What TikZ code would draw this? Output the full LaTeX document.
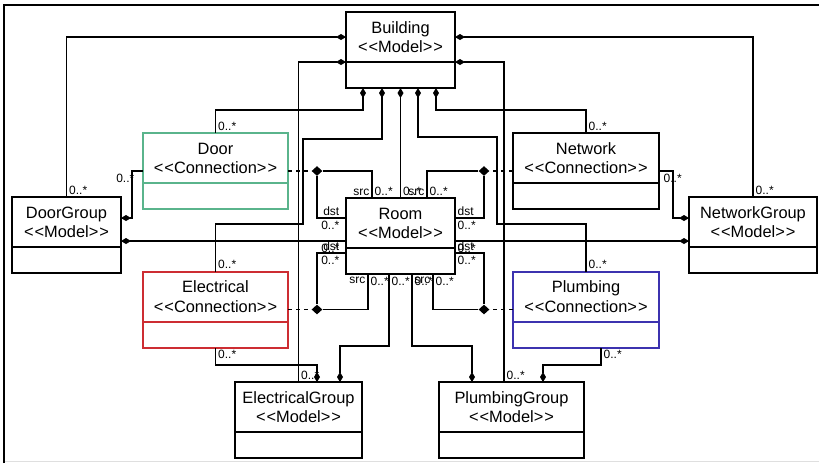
\documentclass[tikz,border=0pt]{standalone}
\usepackage{fontspec}
\setmainfont{Liberation Sans}
\usetikzlibrary{arrows.meta,shapes.geometric}

\definecolor{doorgreen}{RGB}{90,180,140}
\definecolor{elecred}{RGB}{205,45,50}
\definecolor{plumbblue}{RGB}{60,50,175}

% stereotype with the brackets kept apart
\newcommand{\stereo}[1]{<\kern.5pt<#1>\kern.5pt>}

% UML class box: name, centre, width (px), colour, title, stereotype
\newcommand{\umlclass}[6]{%
    \node[classbox, draw=#4, minimum width=#3*0.5pt] (#1) at (#2) {};
    \draw[#4, line width=1pt] ([yshift=-25pt]#1.north west) -- ([yshift=-25pt]#1.north east);
    \node[classname] at ([yshift=-10.5pt]#1.north) {#5};
    \node[classname] at ([yshift=-20.25pt]#1.north) {#6};
}

\begin{document}
\begin{tikzpicture}[
    x=0.5pt, y=-0.5pt,
    classbox/.style={draw, fill=white, line width=1pt, minimum height=38pt, inner sep=0pt, outer sep=0pt},
    classname/.style={anchor=base, inner sep=0pt, font=\fontsize{8.2}{9.5}\selectfont},
    conn/.style={line width=0.7pt},
    comp/.style={conn, {Diamond[length=5pt,width=3pt]}-},
    assoc/.style={conn, dash pattern=on 2pt off 2pt},
    junction/.style={diamond, fill=black, inner sep=0pt, minimum width=5.5pt, minimum height=5pt},
    lbl/.style={inner sep=1pt, font=\fontsize{6}{7}\selectfont},
]
\useasboundingbox (0,0) rectangle (819,463);

% === Frame ===
\draw[gray!25] (4,461) -- (819,461);
\draw[line width=1pt] (4,463) -- (4,5) -- (819,5);

% === Model classes ===
\umlclass{Building}{400.5,50}{109}{black}{Building}{\stereo{Model}}
\umlclass{Room}{400.5,236}{109}{black}{Room}{\stereo{Model}}
\umlclass{DoorGroup}{66.5,235}{109}{black}{DoorGroup}{\stereo{Model}}
\umlclass{NetworkGroup}{753,235}{128}{black}{NetworkGroup}{\stereo{Model}}
\umlclass{ElectricalGroup}{298.5,420}{127}{black}{ElectricalGroup}{\stereo{Model}}
\umlclass{PlumbingGroup}{511.5,420}{145}{black}{PlumbingGroup}{\stereo{Model}}

% === Connection classes ===
\umlclass{Door}{215.5,171}{145}{doorgreen}{Door}{\stereo{Connection}}
\umlclass{Network}{586,171}{146}{black}{Network}{\stereo{Connection}}
\umlclass{Electrical}{215.5,309.5}{145}{elecred}{Electrical}{\stereo{Connection}}
\umlclass{Plumbing}{586,309.5}{146}{plumbblue}{Plumbing}{\stereo{Connection}}

% === Building compositions ===
\draw[comp] (Building.west |- 0,37) -| (DoorGroup.north) node[lbl, anchor=south west] {0..*};
\draw[comp] (Building.west |- 0,62) -| (ElectricalGroup.north) node[lbl, anchor=south west] {0..*};
\draw[comp] (Building.east |- 0,37) -| (NetworkGroup.north) node[lbl, anchor=south west] {0..*};
\draw[comp] (Building.east |- 0,62) -| (504,0 |- PlumbingGroup.north) node[lbl, anchor=south west] {0..*};
\draw[comp] (363,0 |- Building.south) -- (363,110) -| (Door.north) node[lbl, anchor=south west] {0..*};
\draw[comp] (382,0 |- Building.south) -- (382,139) -| (303,224) -| (Electrical.north) node[lbl, anchor=south west] {0..*};
\draw[comp] (Building.south) -- (Room.north) node[lbl, anchor=south west] {0..*};
\draw[comp] (418,0 |- Building.south) -- (418,137) -| (497,224) -| (Plumbing.north) node[lbl, anchor=south west] {0..*};
\draw[comp] (436,0 |- Building.south) -- (436,110) -| (Network.north) node[lbl, anchor=south west] {0..*};

% === Group compositions ===
\draw[comp] (DoorGroup.east |- 0,218) -| (132,0 |- Door.west)
    node[lbl, anchor=north east, xshift=2.5pt] {0..*} -- (Door.west);
\draw[comp] (NetworkGroup.west |- 0,218) -| (673,0 |- Network.east)
    node[lbl, anchor=north west, xshift=-6pt] {0..*} -- (Network.east);
\draw[comp] (DoorGroup.east |- 0,241) -- (Room.west |- 0,241) node[lbl, anchor=north east, xshift=-2pt] {0..*};
\draw[comp] (NetworkGroup.west |- 0,241) -- (Room.east |- 0,241) node[lbl, anchor=north west] {0..*};
\draw[comp] (340,0 |- ElectricalGroup.north) -- (340,346) -| (389,0 |- Room.south) node[lbl, anchor=north west] {0..*};
\draw[comp] (472,0 |- PlumbingGroup.north) -- (472,346) -| (412,0 |- Room.south) node[lbl, anchor=north west] {0..*};
\draw[comp] (317,0 |- ElectricalGroup.north) -- (317,365) -| (Electrical.south) node[lbl, anchor=north west] {0..*};
\draw[comp] (543,0 |- PlumbingGroup.north) -- (543,365) -| (601,0 |- Plumbing.south) node[lbl, anchor=north west] {0..*};

% === Room to Room associations (src / dst) ===
\node[junction] (jDoor) at (317,0 |- Door.east) {};
\node[junction] (jNet) at (484,0 |- Network.east) {};
\node[junction] (jElec) at (317,0 |- Electrical.east) {};
\node[junction] (jPlumb) at (484,0 |- Plumbing.east) {};

\draw[conn] (jDoor) -| (372,0 |- Room.north) node[lbl, anchor=south east] {src} node[lbl, anchor=south west] {0..*};
\draw[conn] (jDoor) |- (Room.west |- 0,218) node[lbl, anchor=south east, xshift=-2pt] {dst} node[lbl, anchor=north east, xshift=-2pt] {0..*};
\draw[conn] (jNet) -| (427,0 |- Room.north) node[lbl, anchor=south east] {src} node[lbl, anchor=south west] {0..*};
\draw[conn] (jNet) |- (Room.east |- 0,218) node[lbl, anchor=south west] {dst} node[lbl, anchor=north west] {0..*};
\draw[conn] (jElec) -| (368,0 |- Room.south) node[lbl, anchor=north east] {src} node[lbl, anchor=north west] {0..*};
\draw[conn] (jElec) |- (Room.west |- 0,253) node[lbl, anchor=south east, xshift=-2pt] {dst} node[lbl, anchor=north east, xshift=-2pt] {0..*};
\draw[conn] (jPlumb) -| (433,0 |- Room.south) node[lbl, anchor=north east] {src} node[lbl, anchor=north west] {0..*};
\draw[conn] (jPlumb) |- (Room.east |- 0,253) node[lbl, anchor=south west] {dst} node[lbl, anchor=north west] {0..*};

% association classes (dashed)
\draw[assoc] (Door.east) -- (jDoor);
\draw[assoc] (Network.west) -- (jNet);
\draw[assoc] (Electrical.east) -- (jElec);
\draw[assoc] (Plumbing.west) -- (jPlumb);

\end{tikzpicture}
\end{document}
